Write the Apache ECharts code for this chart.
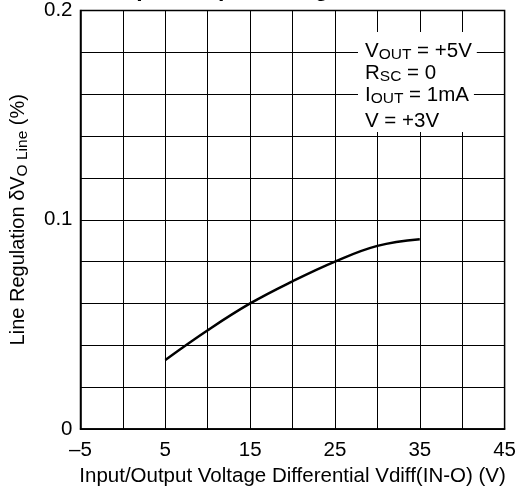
<!DOCTYPE html>
<html><head><meta charset="utf-8">
<script src="https://cdn.jsdelivr.net/npm/echarts@6/dist/echarts.min.js"></script>
<style>html,body{margin:0;padding:0;background:#fff}#c{width:519px;height:498px}</style>
</head><body><div id="c"></div>
<script>
const xValues = [5, 10, 15, 20, 25, 30, 35];
const lineRegulation = [0.033, 0.0472, 0.060, 0.0706, 0.0800, 0.0875, 0.0907];
const xTickValues = [-5, 5, 15, 25, 35, 45];
const xTickLabels = ['\u20135', '5', '15', '25', '35', '45'];
const yTickValues = [0, 0.1, 0.2];
const yTickLabels = ['0', '0.1', '0.2'];
const titleText = 'Input/Output Voltage Differential';
const conditions = [
  ['V', 'OUT', ' = +5V'],
  ['R', 'SC', ' = 0'],
  ['I', 'OUT', ' = 1mA'],
  ['V = +3V', '', '']
];

const FF = 'Liberation Sans, Arial, Helvetica, sans-serif';
const chart = echarts.init(document.getElementById('c'), null, {renderer: 'canvas'});

function findLabel(vals, labels, v) {
  for (let i = 0; i < vals.length; i++) if (Math.abs(vals[i] - v) < 1e-9) return labels[i];
  return '';
}

const rich = {
  n: {fontSize: 20.5, fontFamily: FF, color: '#000'},
  s: {fontSize: 15.5, fontFamily: FF, color: '#000', padding: [8, 0, 0, 0]}
};

const graphics = [
  {type: 'text', x: 292, y: 1.5, z: 10, style: {text: titleText, font: 'bold 23px ' + FF, fill: '#000', align: 'center', verticalAlign: 'bottom', lineHeight: 23}},
  {type: 'rect', shape: {x: 358, y: 32, width: 108, height: 100}, style: {fill: '#fff'}, z: 5}
];
const rowY = [51, 73, 95, 121];
conditions.forEach((c, i) => {
  let t = '{n|' + c[0] + '}';
  if (c[1]) t += '{s|' + c[1] + '}';
  if (c[2]) t += '{n|' + c[2] + '}';
  graphics.push({type: 'text', x: 363, y: rowY[i], z: 10,
    style: {text: t, rich: rich, align: 'left', verticalAlign: 'middle', backgroundColor: '#fff', padding: [0, 5, 0, 2]}});
});

chart.setOption({
  backgroundColor: '#fff',
  animation: false,
  grid: {left: 80.5, right: 13, top: 10, bottom: 69, show: true, borderColor: '#000', borderWidth: 1.5, backgroundColor: '#fff'},
  xAxis: {
    type: 'value', min: -5, max: 45, interval: 5,
    name: 'Input/Output Voltage Differential Vdiff(IN-O) (V)',
    nameLocation: 'middle', nameGap: 36,
    nameTextStyle: {fontSize: 20.5, fontFamily: FF, color: '#000'},
    axisLine: {show: true, onZero: false, lineStyle: {color: '#000', width: 1.5}},
    axisTick: {show: false},
    axisLabel: {fontSize: 20.5, fontFamily: FF, color: '#000', margin: 11, showMinLabel: true, showMaxLabel: true,
      formatter: v => findLabel(xTickValues, xTickLabels, v)},
    splitLine: {show: true, lineStyle: {color: '#000', width: 1}}
  },
  yAxis: {
    type: 'value', min: 0, max: 0.2, interval: 0.02,
    name: '{a|Line Regulation \u03b4V}{s|O Line}{a| (%)}',
    nameLocation: 'middle', nameGap: 50, nameRotate: 90,
    nameTextStyle: {fontSize: 20, fontFamily: FF, color: '#000', rich: {
      a: {fontSize: 20, fontFamily: FF, color: '#000'},
      s: {fontSize: 15.5, fontFamily: FF, color: '#000', padding: [8, 0, 0, 0]}
    }},
    axisLine: {show: true, onZero: false, lineStyle: {color: '#000', width: 1.5}},
    axisTick: {show: false},
    axisLabel: {fontSize: 20.5, fontFamily: FF, color: '#000', margin: 8, showMinLabel: true, showMaxLabel: true,
      formatter: v => findLabel(yTickValues, yTickLabels, v)},
    splitLine: {show: true, lineStyle: {color: '#000', width: 1}}
  },
  series: [{
    type: 'line', smooth: 0.4, showSymbol: false, symbol: 'none',
    data: xValues.map((x, i) => [x, lineRegulation[i]]),
    lineStyle: {color: '#000', width: 2.5}, z: 3
  }],
  graphic: graphics
});
</script></body></html>
